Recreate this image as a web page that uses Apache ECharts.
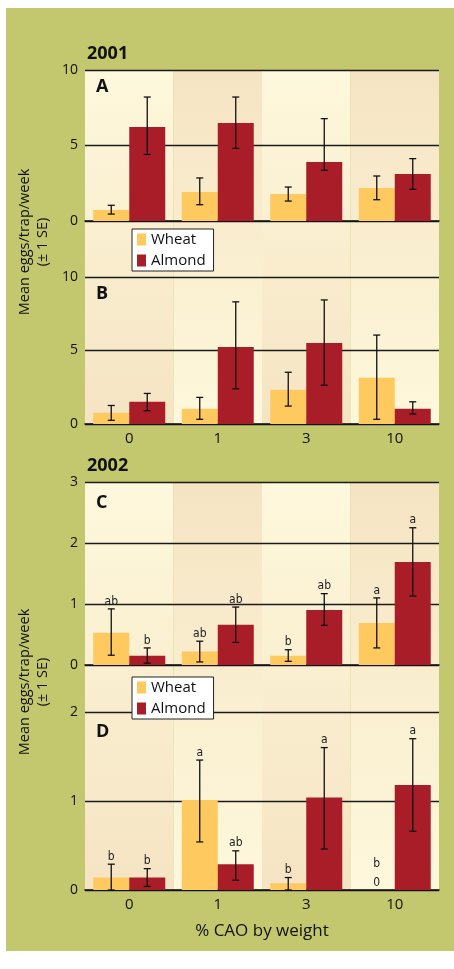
<!DOCTYPE html>
<html>
<head>
<meta charset="utf-8">
<script src="https://cdn.jsdelivr.net/npm/echarts@6/dist/echarts.min.js"></script>
<style>
  html, body { margin: 0; padding: 0; background: #fff; }
  #chart { width: 454px; height: 969px; }
</style>
</head>
<body>
<div id="chart"></div>
<script>
// categories (% CAO by weight)
var cats = ['0', '1', '3', '10'];

// 2001 - A
var aWheat = [0.73, 1.92, 1.79, 2.19];
var aWheatLo = [0.46, 1.08, 1.32, 1.41];
var aWheatHi = [1.04, 2.85, 2.25, 2.98];
var aAlmond = [6.23, 6.49, 3.91, 3.11];
var aAlmondLo = [4.41, 4.81, 3.36, 2.10];
var aAlmondHi = [8.21, 8.21, 6.78, 4.13];

// 2001 - B
var bWheat = [0.77, 1.04, 2.33, 3.14];
var bWheatLo = [0.25, 0.32, 1.22, 0.32];
var bWheatHi = [1.26, 1.81, 3.52, 6.05];
var bAlmond = [1.51, 5.24, 5.51, 1.04];
var bAlmondLo = [0.90, 2.39, 2.64, 0.68];
var bAlmondHi = [2.08, 8.31, 8.44, 1.51];

// 2002 - C
var cWheat = [0.53, 0.22, 0.15, 0.69];
var cWheatLo = [0.16, 0.05, 0.06, 0.28];
var cWheatHi = [0.92, 0.39, 0.25, 1.10];
var cAlmond = [0.15, 0.66, 0.90, 1.69];
var cAlmondLo = [0.03, 0.37, 0.65, 1.13];
var cAlmondHi = [0.28, 0.95, 1.17, 2.25];
var cWheatSig = ['ab', 'ab', 'b', 'a'];
var cAlmondSig = ['b', 'ab', 'ab', 'a'];

// 2002 - D
var dWheat = [0.14, 1.01, 0.075, 0];
var dWheatLo = [0, 0.54, 0, 0];
var dWheatHi = [0.29, 1.46, 0.14, 0];
var dAlmond = [0.14, 0.29, 1.04, 1.18];
var dAlmondLo = [0.04, 0.11, 0.46, 0.66];
var dAlmondHi = [0.24, 0.44, 1.60, 1.70];
var dWheatSig = ['b', 'a', 'b', 'b'];
var dAlmondSig = ['b', 'ab', 'a', 'a'];
var dWheatZero = ['', '', '', '0'];

// axis ranges / ticks
var yMax = [10, 10, 3, 2];
var yStep = [5, 5, 1, 1];
var yearLabels = ['2001', '2002'];
var panelLetters = ['A', 'B', 'C', 'D'];
var bgShade = [1, 1, 1, 1];

var WHEAT = '#fec95f';
var ALMOND = '#a81d27';
var LIGHT = '#fef8dc';
var DARK = '#f5e4c3';
var FONT = '"Open Sans", "Noto Sans", sans-serif';
var SIGFONT = '"Liberation Sans Narrow", "DejaVu Sans Condensed", "Open Sans", sans-serif';

var panels = [
  { wheat: aWheat, wLo: aWheatLo, wHi: aWheatHi, almond: aAlmond, aLo: aAlmondLo, aHi: aAlmondHi, top: 70, height: 151, labels: false },
  { wheat: bWheat, wLo: bWheatLo, wHi: bWheatHi, almond: bAlmond, aLo: bAlmondLo, aHi: bAlmondHi, top: 277, height: 147, labels: true },
  { wheat: cWheat, wLo: cWheatLo, wHi: cWheatHi, almond: cAlmond, aLo: cAlmondLo, aHi: cAlmondHi, top: 482, height: 183, labels: false,
    wSig: cWheatSig, aSig: cAlmondSig },
  { wheat: dWheat, wLo: dWheatLo, wHi: dWheatHi, almond: dAlmond, aLo: dAlmondLo, aHi: dAlmondHi, top: 712, height: 178, labels: true,
    wSig: dWheatSig, aSig: dAlmondSig, wZero: dWheatZero }
];

var myChart = echarts.init(document.getElementById('chart'), null, { renderer: 'canvas' });

// error bars + significance letters
function errRender(offset, sig, zero) {
  return function (params, api) {
    var i = api.value(0);
    var lo = api.value(1), hi = api.value(2);
    var x = api.coord([i, 0])[0] + offset;
    var y0 = api.coord([i, 0])[1];
    var yLo = api.coord([i, lo])[1];
    var yHi = api.coord([i, hi])[1];
    var cap = 3.5;
    var st = { stroke: '#111', lineWidth: 1.3 };
    var kids = [];
    if (hi > lo) {
      kids.push({ type: 'line', shape: { x1: x, y1: yLo, x2: x, y2: yHi }, style: st });
      kids.push({ type: 'line', shape: { x1: x - cap, y1: yHi, x2: x + cap, y2: yHi }, style: st });
      kids.push({ type: 'line', shape: { x1: x - cap, y1: yLo, x2: x + cap, y2: yLo }, style: st });
    }
    var letterY = yHi - 1.5;
    if (zero && zero[params.dataIndex]) {
      kids.push({ type: 'text', x: x, y: y0 - 1, style: { text: zero[params.dataIndex], font: '12px ' + SIGFONT, fill: '#222', align: 'center', verticalAlign: 'bottom' } });
      letterY = y0 - 20;
    }
    if (sig) {
      kids.push({ type: 'text', x: x, y: letterY, style: { text: sig[params.dataIndex], font: '12px ' + SIGFONT, fill: '#222', align: 'center', verticalAlign: 'bottom' } });
    }
    return { type: 'group', children: kids };
  };
}

var grids = [], xAxes = [], yAxes = [], series = [];

panels.forEach(function (p, k) {
  grids.push({ left: 85, right: 15, top: p.top, height: p.height });
  xAxes.push({
    type: 'category', gridIndex: k, data: cats,
    axisLine: { show: true, lineStyle: { color: '#111', width: 1.5 } },
    axisTick: { show: false },
    axisLabel: { show: p.labels, color: '#111', fontSize: 15, fontFamily: FONT, margin: 7 },
    name: k === 3 ? '% CAO by weight' : '',
    nameLocation: 'middle', nameGap: 33,
    nameTextStyle: { color: '#111', fontSize: 17, fontFamily: FONT }
  });
  yAxes.push({
    type: 'value', gridIndex: k, min: 0, max: yMax[k], interval: yStep[k],
    axisLine: { show: false }, axisTick: { show: false },
    axisLabel: { color: '#111', fontSize: 14, fontFamily: FONT, margin: 7 },
    splitLine: { show: true, lineStyle: { color: '#1a1a1a', width: 1.4 } }
  });
  series.push({
    name: 'Wheat', type: 'bar', xAxisIndex: k, yAxisIndex: k, data: p.wheat,
    barWidth: 36, barGap: '0%', itemStyle: { color: WHEAT }, z: 2, silent: true
  });
  series.push({
    name: 'Almond', type: 'bar', xAxisIndex: k, yAxisIndex: k, data: p.almond,
    barWidth: 36, barGap: '0%', itemStyle: { color: ALMOND }, z: 2, silent: true
  });
  series.push({
    type: 'custom', xAxisIndex: k, yAxisIndex: k, z: 5, silent: true,
    renderItem: errRender(-18, p.wSig, p.wZero),
    data: cats.map(function (c, i) { return [i, p.wLo[i], p.wHi[i]]; })
  });
  series.push({
    type: 'custom', xAxisIndex: k, yAxisIndex: k, z: 5, silent: true,
    renderItem: errRender(18, p.aSig, null),
    data: cats.map(function (c, i) { return [i, p.aLo[i], p.aHi[i]]; })
  });
});

// background column shading spanning each year's pair of panels
[[70, 354], [482, 408]].forEach(function (b, j) {
  var k = 4 + j;
  grids.push({ left: 85, right: 15, top: b[0], height: b[1] });
  xAxes.push({ type: 'category', gridIndex: k, data: cats, show: false });
  yAxes.push({ type: 'value', gridIndex: k, min: 0, max: 1, show: false, splitLine: { show: false } });
  series.push({
    type: 'bar', xAxisIndex: k, yAxisIndex: k, barWidth: '100%', silent: true, z: -1,
    data: bgShade.map(function (v, i) {
      var c = i % 2 === 0 ? [LIGHT, DARK] : [DARK, LIGHT];
      return {
        value: v,
        itemStyle: {
          color: new echarts.graphic.LinearGradient(0, 0, 0, 1, [
            { offset: 0, color: c[0] }, { offset: 1, color: c[1] }
          ])
        }
      };
    })
  });
});

var legendBase = {
  orient: 'vertical', left: 132, itemWidth: 9, itemHeight: 12, itemGap: 4,
  padding: [2, 8, 2, 5], backgroundColor: '#fff', borderColor: '#222', borderWidth: 1,
  borderRadius: 0, icon: 'rect', selectedMode: false,
  textStyle: { color: '#111', fontSize: 15, fontFamily: FONT, lineHeight: 17 },
  data: ['Wheat', 'Almond']
};

var graphic = [
  { type: 'rect', shape: { x: 6, y: 8, width: 448, height: 943 }, style: { fill: '#c3c76e' }, z: -10 }
];
yearLabels.forEach(function (t, j) {
  graphic.push({ type: 'text', x: 87, y: j === 0 ? 54 : 466, z: 10,
    style: { text: t, font: 'bold 18px ' + FONT, fill: '#111', verticalAlign: 'middle' } });
  graphic.push({ type: 'text', x: 34, y: j === 0 ? 242 : 682, rotation: Math.PI / 2, z: 10,
    style: { text: 'Mean eggs/trap/week\n(± 1 SE)', font: '14.5px ' + FONT, fill: '#111',
      align: 'center', verticalAlign: 'middle', lineHeight: 18 } });
});
[87, 294, 503, 732].forEach(function (y, k) {
  graphic.push({ type: 'text', x: 96, y: y, z: 10,
    style: { text: panelLetters[k], font: 'bold 18px ' + FONT, fill: '#111', verticalAlign: 'middle' } });
});

var option = {
  animation: false,
  backgroundColor: '#fff',
  grid: grids,
  xAxis: xAxes,
  yAxis: yAxes,
  legend: [
    Object.assign({}, legendBase, { top: 229 }),
    Object.assign({}, legendBase, { top: 677 })
  ],
  graphic: graphic,
  series: series
};

myChart.setOption(option);
</script>
</body>
</html>
